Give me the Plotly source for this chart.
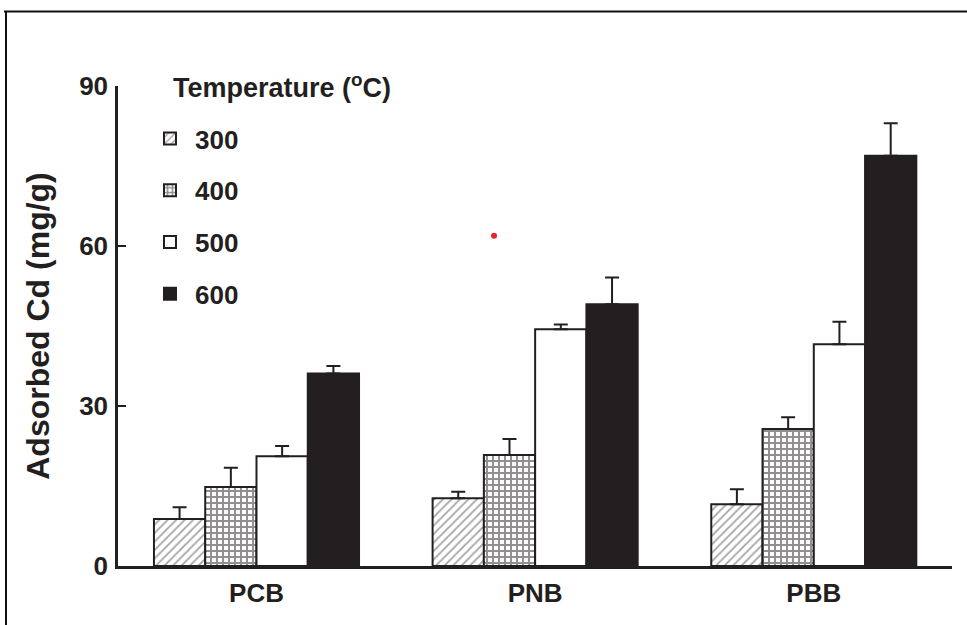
import plotly.graph_objects as go

categories = ["PCB", "PNB", "PBB"]
cat_pos = [0, 1, 2]
temps = ["300", "400", "500", "600"]
values = {
    "300": [8.8, 12.7, 11.6],
    "400": [14.8, 20.8, 25.7],
    "500": [20.6, 44.4, 41.6],
    "600": [36.1, 49.1, 76.9],
}
errors = {
    "300": [2.2, 1.2, 2.8],
    "400": [3.6, 3.0, 2.2],
    "500": [1.9, 0.9, 4.2],
    "600": [1.4, 5.0, 6.1],
}
y_ticks = [0, 30, 60, 90]
dot_x = [0.8525]
dot_y = [61.9]

INK = "#231f20"
FONT = "Liberation Sans, Arial, sans-serif"

styles = {
    "300": dict(color="white", pattern=dict(shape="/", fgcolor="#4a4a4a", bgcolor="white", size=6, solidity=0.3)),
    "400": dict(color="white", pattern=dict(shape="+", fgcolor=INK, bgcolor="white", size=6, solidity=0.55)),
    "500": dict(color="white"),
    "600": dict(color=INK),
}

fig = go.Figure()
for t in temps:
    st = styles[t]
    marker = dict(color=st["color"], line=dict(color=INK, width=2))
    if "pattern" in st:
        marker["pattern"] = st["pattern"]
    fig.add_trace(go.Bar(
        x=cat_pos, y=values[t], name=t, legendgroup=t,
        marker=marker,
        error_y=dict(type="data", symmetric=False, array=errors[t],
                     arrayminus=[0] * len(errors[t]),
                     color=INK, thickness=2, width=7),
    ))

fig.add_trace(go.Scatter(x=dot_x, y=dot_y, mode="markers",
                         marker=dict(color="#e8262a", size=6),
                         showlegend=False, hoverinfo="skip"))

L, R, T, B = 118, 15, 86, 59
W, H = 967, 625
pw, ph = W - L - R, H - T - B

def px_x(p):
    return (p - L) / pw

def px_y(p):
    return (H - B - p) / ph

fig.add_shape(type="line", xref="paper", yref="paper",
              x0=px_x(4), x1=px_x(967), y0=px_y(11.5), y1=px_y(11.5),
              line=dict(color="#111", width=2))
fig.add_shape(type="line", xref="paper", yref="paper",
              x0=px_x(6), x1=px_x(6), y0=px_y(11.5), y1=px_y(625),
              line=dict(color="#111", width=2))

fig.add_annotation(text="Temperature (<sup>o</sup>C)", xref="paper", yref="paper",
                   x=px_x(171), y=px_y(86), xanchor="left", yanchor="middle",
                   showarrow=False, font=dict(family=FONT, size=27, color=INK, weight="bold"))

fig.update_layout(
    width=W, height=H,
    margin=dict(l=L, r=R, t=T, b=B),
    plot_bgcolor="white", paper_bgcolor="white",
    barmode="group", bargap=0.264, bargroupgap=0,
    font=dict(family=FONT, size=26, color=INK, weight="bold"),
    showlegend=True,
    legend=dict(x=px_x(145), y=px_y(115), xanchor="left", yanchor="top",
                traceorder="grouped", tracegroupgap=15, itemwidth=40,
                font=dict(family=FONT, size=26, color=INK, weight="bold"),
                bgcolor="rgba(0,0,0,0)"),
    xaxis=dict(range=[-0.497, 2.496], tickvals=cat_pos, ticktext=categories,
               showline=True, linecolor=INK, linewidth=2.5, ticks="",
               showgrid=False, zeroline=False, ticklabelstandoff=2,
               tickfont=dict(family=FONT, size=26, color=INK, weight="bold")),
    yaxis=dict(range=[0, 90], tickvals=y_ticks, showline=True, linecolor=INK,
               linewidth=2.5, ticks="inside", ticklen=8, tickwidth=2, tickcolor=INK,
               showgrid=False, zeroline=False, ticklabelstandoff=2,
               tickfont=dict(family=FONT, size=26, color=INK, weight="bold"),
               title=dict(text="Adsorbed Cd (mg/g)", standoff=20,
                          font=dict(family=FONT, size=32, color=INK, weight="bold"))),
)

fig.write_html("out.html", config={"displayModeBar": False},
               post_script="document.body.style.margin='0';document.body.style.overflow='hidden';")
